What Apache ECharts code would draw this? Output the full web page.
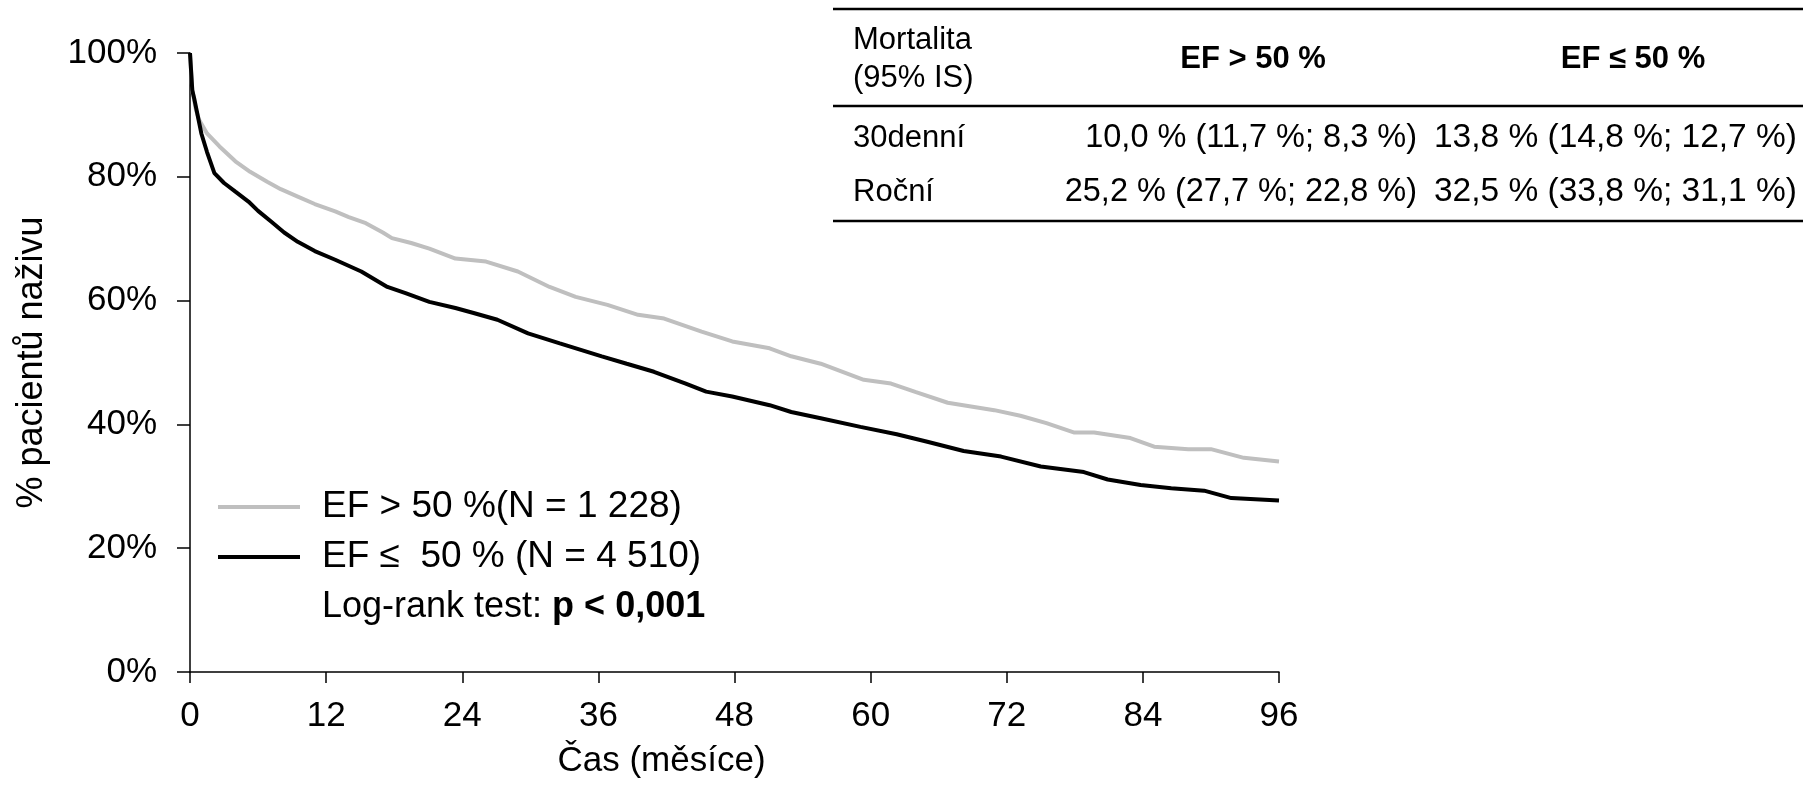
<!DOCTYPE html>
<html>
<head>
<meta charset="utf-8">
<script src="https://cdn.jsdelivr.net/npm/echarts@6/dist/echarts.min.js"></script>
<style>
  html, body { margin: 0; padding: 0; background: #fff; }
  #chart { width: 1803px; height: 785px; }
</style>
</head>
<body>
<div id="chart"></div>
<script>
// prezivani podle EF
var xTicks = [0, 12, 24, 36, 48, 60, 72, 84, 96];
var yTicks = [0, 20, 40, 60, 80, 100];

var efHighMonths = [0, 0.2, 0.5, 0.8, 1.5, 2.6, 4, 5.3, 6.8, 8, 9.5, 11, 12.8, 14, 15.5, 17, 17.8, 19.5, 21.1, 23.4, 26.1, 28.9, 31.7, 34, 36.8, 39.5, 41.8, 45.1, 47.8, 51.1, 53, 55.6, 59.4, 61.8, 64, 66.8, 70.9, 73.2, 75.5, 77.9, 79.7, 82.9, 85, 88, 90, 92.9, 96];
var efHighSurv = [100, 94, 91, 89.2, 87, 84.9, 82.5, 80.8, 79.2, 78, 76.8, 75.6, 74.4, 73.5, 72.5, 71, 70.1, 69.3, 68.4, 66.8, 66.3, 64.7, 62.2, 60.6, 59.3, 57.7, 57.1, 55.0, 53.4, 52.3, 51, 49.8, 47.2, 46.6, 45.2, 43.5, 42.3, 41.4, 40.2, 38.7, 38.7, 37.8, 36.4, 36.0, 36.0, 34.6, 34.0];

var efLowMonths = [0, 0.2, 0.4, 1.0, 1.5, 2.15, 3, 4, 5.15, 6, 7.2, 8.3, 9.5, 11, 12.8, 15.1, 17.4, 19, 21.1, 23.4, 25, 27.1, 29.8, 32.6, 36.3, 38.5, 40.9, 43.7, 45.5, 47.8, 51.1, 53, 55.6, 59.1, 62.3, 65, 68.2, 71.5, 75, 78.8, 80.9, 83.8, 86.5, 89.4, 91.8, 96];
var efLowSurv = [100, 94, 92.4, 87.0, 84, 80.6, 79, 77.6, 76.0, 74.5, 72.7, 71, 69.5, 68, 66.6, 64.7, 62.2, 61.2, 59.8, 58.8, 58, 56.9, 54.7, 53.1, 51.0, 49.8, 48.5, 46.6, 45.3, 44.5, 43.1, 42, 41.0, 39.6, 38.4, 37.2, 35.7, 34.8, 33.2, 32.3, 31.1, 30.2, 29.7, 29.3, 28.1, 27.7];

var legendNames = ['EF > 50 %(N = 1 228)', 'EF \u2264  50 % (N = 4 510)'];
var tableHeader = ['Mortalita\n(95% IS)', 'EF > 50 %', 'EF \u2264 50 %'];
var tableRows = ['30denní', 'Roční'];
var tableHigh = ['10,0 % (11,7 %; 8,3 %)', '25,2 % (27,7 %; 22,8 %)'];
var tableLow = ['13,8 % (14,8 %; 12,7 %)', '32,5 % (33,8 %; 31,1 %)'];

var font = 'Liberation Sans, Arial, sans-serif';
var gray = '#bfbfbf';

function pairs(xs, ys) {
  var out = [];
  for (var i = 0; i < xs.length; i++) out.push([xs[i], ys[i]]);
  return out;
}

var graphics = [];
// legenda
[gray, '#000'].forEach(function (c, i) {
  var y = 507 + i * 50;
  graphics.push({ type: 'line', shape: { x1: 218, y1: y, x2: 300, y2: y }, style: { stroke: c, lineWidth: 4 } });
  graphics.push({ type: 'text', x: 322, y: y, style: { text: legendNames[i], font: '37px ' + font, fill: '#000', verticalAlign: 'middle' } });
});
graphics.push({
  type: 'text', x: 322, y: 607,
  style: {
    text: '{n|Log-rank test: }{b|p < 0,001}',
    verticalAlign: 'middle',
    rich: {
      n: { fontSize: 36, fontFamily: font, fill: '#000' },
      b: { fontSize: 36, fontFamily: font, fontWeight: 'bold', fill: '#000' }
    }
  }
});

// tabulka
[9, 106, 221].forEach(function (y) {
  graphics.push({ type: 'line', shape: { x1: 833, y1: y, x2: 1803, y2: y }, style: { stroke: '#000', lineWidth: 2.5 } });
});
graphics.push({ type: 'text', x: 853, y: 59, style: { text: tableHeader[0], font: '31px ' + font, fill: '#000', verticalAlign: 'middle', lineHeight: 38 } });
graphics.push({ type: 'text', x: 1253, y: 59, style: { text: tableHeader[1], font: 'bold 31px ' + font, fill: '#000', align: 'center', verticalAlign: 'middle' } });
graphics.push({ type: 'text', x: 1633, y: 59, style: { text: tableHeader[2], font: 'bold 31px ' + font, fill: '#000', align: 'center', verticalAlign: 'middle' } });
tableRows.forEach(function (r, i) {
  var y = 138 + i * 54;
  graphics.push({ type: 'text', x: 853, y: y, style: { text: r, font: '31px ' + font, fill: '#000', verticalAlign: 'middle' } });
  graphics.push({ type: 'text', x: 1417, y: y, style: { text: tableHigh[i], font: '32.5px ' + font, fill: '#000', align: 'right', verticalAlign: 'middle' } });
  graphics.push({ type: 'text', x: 1797, y: y, style: { text: tableLow[i], font: '33.5px ' + font, fill: '#000', align: 'right', verticalAlign: 'middle' } });
});

var option = {
  animation: false,
  backgroundColor: '#fff',
  grid: { left: 190, right: 524, top: 53, bottom: 113 },
  xAxis: {
    type: 'value',
    min: xTicks[0], max: xTicks[xTicks.length - 1], interval: 12,
    name: 'Čas (měsíce)', nameLocation: 'middle', nameGap: 72,
    nameTextStyle: { fontSize: 35, fontFamily: font, color: '#000', padding: [0, 146, 0, 0] },
    axisLine: { lineStyle: { color: '#000', width: 1.5 } },
    axisTick: { length: 11, lineStyle: { color: '#000', width: 1.5 } },
    axisLabel: { fontSize: 35, fontFamily: font, color: '#000', margin: 27 },
    splitLine: { show: false }
  },
  yAxis: {
    type: 'value',
    min: yTicks[0], max: yTicks[yTicks.length - 1], interval: 20,
    name: '% pacientů naživu', nameLocation: 'middle', nameGap: 140,
    nameTextStyle: { fontSize: 36, fontFamily: font, color: '#000' },
    axisLine: { show: true, lineStyle: { color: '#000', width: 1.5 } },
    axisTick: { show: true, length: 13, lineStyle: { color: '#000', width: 1.5 } },
    axisLabel: { fontSize: 35, fontFamily: font, color: '#000', margin: 33, formatter: '{value}%' },
    splitLine: { show: false }
  },
  series: [
    { name: legendNames[0], type: 'line', data: pairs(efHighMonths, efHighSurv), showSymbol: false, lineStyle: { color: gray, width: 4 }, z: 3 },
    { name: legendNames[1], type: 'line', data: pairs(efLowMonths, efLowSurv), showSymbol: false, lineStyle: { color: '#000', width: 4 }, z: 4 }
  ],
  graphic: graphics
};

var chart = echarts.init(document.getElementById('chart'));
chart.setOption(option);
</script>
</body>
</html>
